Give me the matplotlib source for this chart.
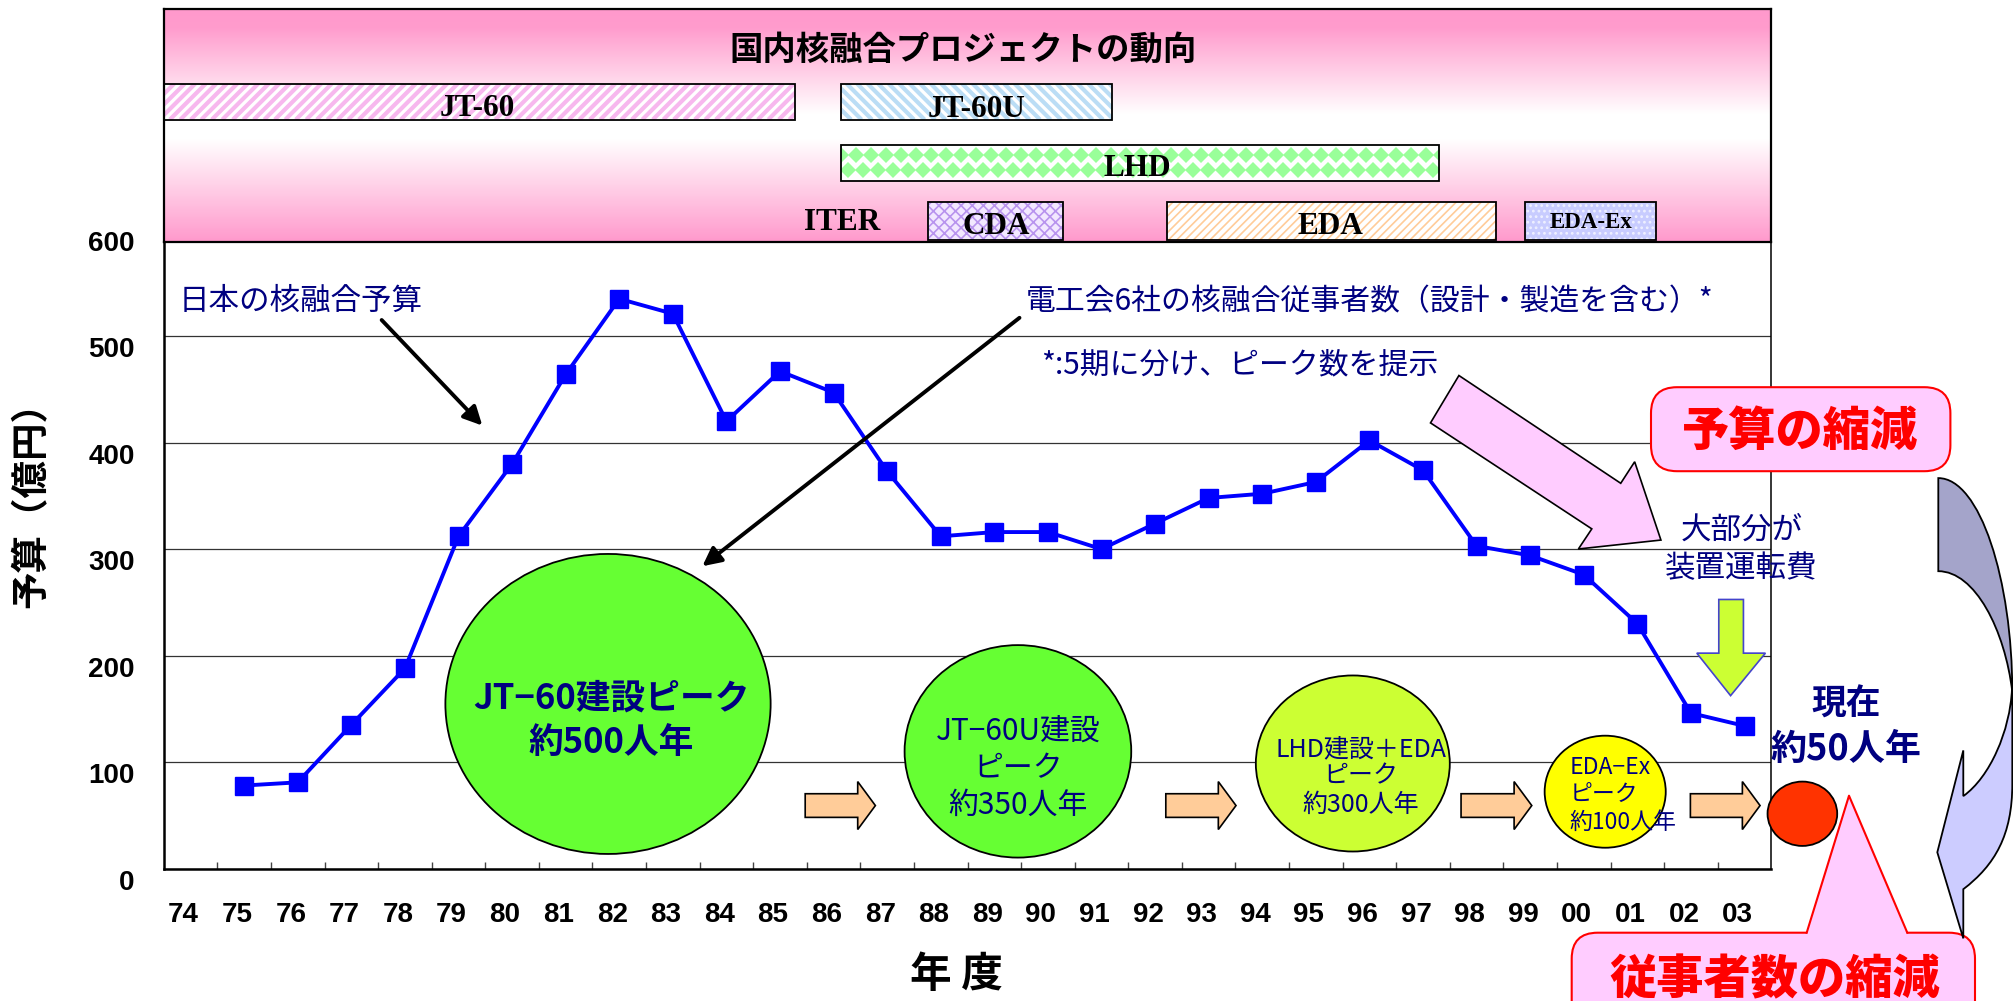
import matplotlib
matplotlib.use('Agg')
import matplotlib.pyplot as plt
import numpy as np
import matplotlib.transforms as mtransforms
from matplotlib.patches import Ellipse, Polygon, Rectangle, FancyBboxPatch, PathPatch
from matplotlib.path import Path
from matplotlib.collections import LineCollection
from matplotlib.colors import LinearSegmentedColormap

CJK = ['Noto Sans CJK JP', 'DejaVu Sans']
plt.rcParams['font.family'] = CJK
plt.rcParams['hatch.linewidth'] = 1.2

# ---------------- data ----------------
years = [1975, 1976, 1977, 1978, 1979, 1980, 1981, 1982, 1983, 1984, 1985, 1986, 1987,
         1988, 1989, 1990, 1991, 1992, 1993, 1994, 1995, 1996, 1997, 1998, 1999, 2000,
         2001, 2002, 2003]
budget = [78, 81, 135, 188, 312, 380, 464, 535, 521, 420, 467, 447, 373,
          312, 316, 316, 300, 324, 348, 352, 363, 402, 374, 303, 294, 276,
          230, 146, 134]
tick_years = list(range(1974, 2004))
tick_labels = ['74', '75', '76', '77', '78', '79', '80', '81', '82', '83', '84', '85', '86',
               '87', '88', '89', '90', '91', '92', '93', '94', '95', '96', '97', '98', '99',
               '00', '01', '02', '03']
y_ticks = [0, 100, 200, 300, 400, 500, 600]

projects = ['JT-60', 'JT-60U', 'LHD', 'CDA', 'EDA', 'EDA-Ex']
proj_start = [1974.0, 1986.63, 1986.63, 1988.26, 1992.72, 1999.40]
proj_end = [1985.78, 1991.70, 1997.80, 1990.79, 1998.86, 2001.85]
proj_row = [0, 0, 1, 2, 2, 2]

NAVY = '#000080'
W, H = 2013, 1001
fig = plt.figure(figsize=(W / 100, H / 100), dpi=100)

# ---------------- main axes ----------------
L, R, B, T = 163.8, 1771.3, 868.6, 229.6
ax = fig.add_axes([L / W, (H - B) / H, (R - L) / W, (B - T) / H])
ax.set_xlim(1974, 2004)
ax.set_ylim(0, 600)
xc = [y + 0.5 for y in years]
ax.plot(xc, budget, color='#0000FF', lw=2.8, marker='s', ms=13, mec='#0000FF', zorder=4)

ax.set_xticks([y + 0.5 for y in tick_years])
ax.set_xticklabels(tick_labels)
ax.set_xticks(list(range(1975, 2004)), minor=True)
ax.tick_params(axis='x', which='major', length=0, pad=24)
ax.tick_params(axis='x', which='minor', direction='in', length=5, width=1, color='#444444')
ax.set_yticks(y_ticks)
ax.tick_params(axis='y', length=0, pad=21)
for lbl in ax.get_xticklabels() + ax.get_yticklabels():
    lbl.set_fontfamily(['Liberation Sans', 'DejaVu Sans'])
    lbl.set_fontweight('bold')
    lbl.set_fontsize(20)
xoff = mtransforms.ScaledTranslation(-0.07, 0, fig.dpi_scale_trans)
yoff = mtransforms.ScaledTranslation(0, -0.11, fig.dpi_scale_trans)
for lbl in ax.get_xticklabels():
    lbl.set_transform(lbl.get_transform() + xoff)
for lbl in ax.get_yticklabels():
    lbl.set_transform(lbl.get_transform() + yoff)
ax.yaxis.grid(True, color='#333333', lw=0.9)
ax.set_axisbelow(True)
ax.spines['top'].set_visible(False)
ax.spines['left'].set_linewidth(1.8)
ax.spines['bottom'].set_linewidth(1.8)
ax.spines['right'].set_linewidth(1.1)

ax.set_ylabel('予算（億円）', fontsize=27, fontweight='bold', va='center')
ax.yaxis.set_label_coords(-0.0826, 0.5836)
ax.set_xlabel('年 度', fontsize=30, fontweight='bold', va='center')
ax.xaxis.set_label_coords(0.4928, -0.166)

# annotations inside the plot
ax.text(1974.28, 532.3, '日本の核融合予算', color=NAVY, fontsize=22, ha='left', va='center')
ax.annotate('', xy=(1979.98, 414.1), xytext=(1978.03, 517.0),
            arrowprops=dict(arrowstyle='-|>', lw=2.8, color='black', mutation_scale=28))
ax.text(1990.09, 532.3, '電工会6社の核融合従事者数（設計・製造を含む）*', color=NAVY,
        fontsize=21.5, ha='left', va='center')
ax.text(1990.38, 472.9, '*:5期に分け、ピーク数を提示', color=NAVY, fontsize=21.5,
        ha='left', va='center')
ax.annotate('', xy=(1984.01, 282.3), xytext=(1990.01, 518.8),
            arrowprops=dict(arrowstyle='-|>', lw=2.8, color='black', mutation_scale=28),
            zorder=6)

ax.add_patch(Polygon([(1997.64, 418.5), (1998.17, 463.0), (2001.19, 361.8), (2001.45, 382.0),
                      (2001.94, 308.5), (2000.40, 300.1), (2000.65, 319.0)],
                     closed=True, fc='#FFCCFF', ec='black', lw=1.2, zorder=5))
ax.text(2003.44, 317.9, '大部分が', color=NAVY, fontsize=22, ha='center', va='center', zorder=6)
ax.text(2003.44, 282.1, '装置運転費', color=NAVY, fontsize=22, ha='center', va='center', zorder=6)
ax.add_patch(Polygon([(2003.02, 252.7), (2003.48, 252.7), (2003.48, 202.3), (2003.89, 202.3),
                      (2003.24, 162.4), (2002.61, 202.3), (2003.02, 202.3)],
                     closed=True, fc='#CCFF33', ec='#4444CC', lw=1.2, zorder=5))

# peak ellipses
ells = [((1982.29, 154.6), 6.07, 281.7, '#66FF33'),
        ((1989.94, 110.1), 4.23, 199.5, '#66FF33'),
        ((1996.19, 98.7), 3.62, 165.3, '#CCFF33'),
        ((2000.90, 72.2), 2.26, 105.2, '#FFFF00')]
for c, w, h, col in ells:
    ax.add_patch(Ellipse(c, w, h, fc=col, ec='black', lw=1.3, zorder=5))
for y, s in zip([160.5, 118.6], ['JT−60建設ピーク', '約500人年']):
    ax.text(1982.35, y, s, color=NAVY, fontsize=25, fontweight='bold', ha='center', va='center', zorder=6)
for y, s in zip([129.0, 94.3, 59.1], ['JT−60U建設', 'ピーク', '約350人年']):
    ax.text(1989.94, y, s, color=NAVY, fontsize=21.5, ha='center', va='center', zorder=6)
for y, s in zip([112.3, 86.3, 59.9], ['LHD建設＋EDA', 'ピーク', '約300人年']):
    ax.text(1996.34, y, s, color=NAVY, fontsize=18, ha='center', va='center', zorder=6)
for y, s in zip([95.3, 70.0, 43.7], ['EDA−Ex', 'ピーク', '約100人年']):
    ax.text(2000.24, y, s, color=NAVY, fontsize=16.5, ha='left', va='center', zorder=6)

# orange arrows between peaks
def right_arrow(x0, x1, yc, sh, hh, hl):
    return [(x0, yc - sh), (x1 - hl, yc - sh), (x1 - hl, yc - hh), (x1, yc),
            (x1 - hl, yc + hh), (x1 - hl, yc + sh), (x0, yc + sh)]
for x0, x1 in [(1985.97, 1987.28), (1992.70, 1994.01), (1998.21, 1999.53), (2002.49, 2003.79)]:
    ax.add_patch(Polygon(right_arrow(x0, x1, 59.2, 11.1, 22.5, 0.33), closed=True,
                         fc='#FFCC99', ec='black', lw=1.2, zorder=5))

ax.add_patch(Ellipse((2004.58, 51.5), 1.30, 60.4, fc='#FF3300', ec='black', lw=1.3,
                     zorder=6, clip_on=False))
ax.text(2005.39, 154.0, '現在', color=NAVY, fontsize=25, fontweight='bold', ha='center',
        va='center', clip_on=False)
ax.text(2005.39, 112.0, '約50人年', color=NAVY, fontsize=26, fontweight='bold', ha='center',
        va='center', clip_on=False)

# ---------------- header ----------------
HT, HB = 9.3, 242.3
hx = fig.add_axes([L / W, (H - HB) / H, (R - L) / W, (HB - HT) / H], zorder=5)
cmap = LinearSegmentedColormap.from_list('hdr', [(0, '#FF99CC'), (0.08, '#FF9CCD'),
                                                 (0.45, '#FFFFFF'), (0.56, '#FFFFFF'),
                                                 (1.0, '#FF99CC')])
grad = np.linspace(0, 1, 256).reshape(-1, 1)
hx.imshow(grad, extent=[1974, 2004, 233, 0], aspect='auto', cmap=cmap, zorder=0)
hx.set_xlim(1974, 2004)
hx.set_ylim(233, 0)
hx.set_xticks([])
hx.set_yticks([])
for s in hx.spines.values():
    s.set_linewidth(1.6)

row_top = [74.3, 135.7, 192.5]
row_h = [36, 36, 38]
PXY = 53.583  # px per year

def stripes(x0, x1, top, hgt, color, direction):
    segs = []
    step = 10.5 / PXY
    dx = hgt / PXY
    xs = np.arange(x0 - dx, x1 + dx, step)
    for x in xs:
        if direction == '/':
            segs.append([(x, top + hgt), (x + dx, top)])
        else:
            segs.append([(x, top), (x + dx, top + hgt)])
    return LineCollection(segs, colors=color, linewidths=3.0, zorder=2)

for name, s0, s1, r in zip(projects, proj_start, proj_end, proj_row):
    top, hgt = row_top[r], row_h[r]
    rect = Rectangle((s0, top), s1 - s0, hgt, fc='white', ec='none', zorder=1)
    hx.add_patch(rect)
    if name == 'JT-60':
        lc = stripes(s0, s1, top, hgt, '#F7B8EE', '/')
        hx.add_collection(lc); lc.set_clip_path(rect)
    elif name == 'JT-60U':
        lc = stripes(s0, s1, top, hgt, '#BBDDF5', '\\')
        hx.add_collection(lc); lc.set_clip_path(rect)
    elif name == 'LHD':
        dxs = 15 / PXY
        for k, yy in enumerate([top + 10, top + 25]):
            xs = np.arange(s0 + (dxs / 2 if k else 0), s1 + dxs, dxs)
            ln, = hx.plot(xs, [yy] * len(xs), ls='none', marker='D', ms=8, mew=0,
                          color='#99FF99', zorder=2)
            ln.set_clip_path(rect)
    elif name == 'CDA':
        hx.add_patch(Rectangle((s0, top), s1 - s0, hgt, fc='#F2E8FF', ec='#B894EE',
                               lw=0, hatch='xxx', zorder=2))
    elif name == 'EDA':
        hx.add_patch(Rectangle((s0, top), s1 - s0, hgt, fc='white', ec='#FFCC99',
                               lw=0, hatch='////', zorder=2))
    elif name == 'EDA-Ex':
        hx.add_patch(Rectangle((s0, top), s1 - s0, hgt, fc='#C8CCFF', ec='#EEF0FF',
                               lw=0, hatch='...', zorder=2))
    hx.add_patch(Rectangle((s0, top), s1 - s0, hgt, fc='none', ec='black', lw=1.3, zorder=3))

SERIF = ['Liberation Serif', 'DejaVu Serif']
hdr_labels = [('JT-60', 1979.85, 95.7, 22.5), ('JT-60U', 1989.16, 97.4, 22.5),
              ('LHD', 1992.16, 156.7, 22.5), ('ITER', 1986.65, 210.7, 22.5),
              ('CDA', 1989.53, 213.7, 22.5), ('EDA', 1995.78, 214.7, 22.5),
              ('EDA-Ex', 2000.63, 210.7, 16.5)]
for s, x, y, fs in hdr_labels:
    hx.text(x, y + 3, s, family=SERIF, fontweight='bold', fontsize=fs, ha='center',
            va='center', zorder=4)
hx.text(0.497, (233 - 40.7) / 233, '国内核融合プロジェクトの動向', transform=hx.transAxes,
        fontsize=24, fontweight='bold', ha='center', va='center', zorder=4)

# ---------------- overlay (callouts outside plot) ----------------
ov = fig.add_axes([0, 0, 1, 1], zorder=10)
ov.set_xlim(0, W)
ov.set_ylim(H, 0)
ov.axis('off')
ov.patch.set_alpha(0)

ov.add_patch(FancyBboxPatch((1651, 387.2), 299.4, 84, boxstyle='round,pad=0,rounding_size=26',
                            fc='#FFCCFF', ec='red', lw=1.5))
ov.text(1800.3, 431.9, '予算の縮減', color='red', fontsize=34, fontweight='heavy',
        ha='center', va='center')

ov.add_patch(FancyBboxPatch((1571.7, 932.7), 403.3, 130, boxstyle='round,pad=0,rounding_size=26',
                            fc='#FFCCFF', ec='red', lw=1.5))
ov.add_patch(Polygon([(1806.7, 935), (1849, 795.7), (1907.3, 935)], closed=True,
                     fc='#FFCCFF', ec='none'))
ov.plot([1806.7, 1849, 1907.3], [932.7, 795.7, 932.7], color='red', lw=1.5)
ov.text(1775, 980, '従事者数の縮減', color='red', fontsize=34, fontweight='heavy',
        ha='center', va='center')

dark = Path([(1938.3, 478.1), (1980, 478.1), (2012.3, 580), (2012.3, 692),
             (2005, 630), (1975, 571.2), (1938.3, 571.2), (1938.3, 478.1)],
            [Path.MOVETO, Path.CURVE4, Path.CURVE4, Path.CURVE4,
             Path.CURVE4, Path.CURVE4, Path.CURVE4, Path.CLOSEPOLY])
ov.add_patch(PathPatch(dark, fc='#A4A4CA', ec='black', lw=1.3))
light = Path([(2012.0, 689), (2010, 731), (1990, 777), (1963.3, 796.1),
              (1963.3, 750.4), (1937.3, 852.3), (1963.3, 938.4), (1963.3, 889.2),
              (1995, 865), (2012.3, 835), (2012.3, 784), (2012.3, 692), (2012.0, 689)],
             [Path.MOVETO, Path.CURVE4, Path.CURVE4, Path.CURVE4,
              Path.LINETO, Path.LINETO, Path.LINETO, Path.LINETO,
              Path.CURVE4, Path.CURVE4, Path.CURVE4, Path.LINETO, Path.CLOSEPOLY])
ov.add_patch(PathPatch(light, fc='#CCCCFF', ec='black', lw=1.3))

fig.savefig('out.png', dpi=100)
